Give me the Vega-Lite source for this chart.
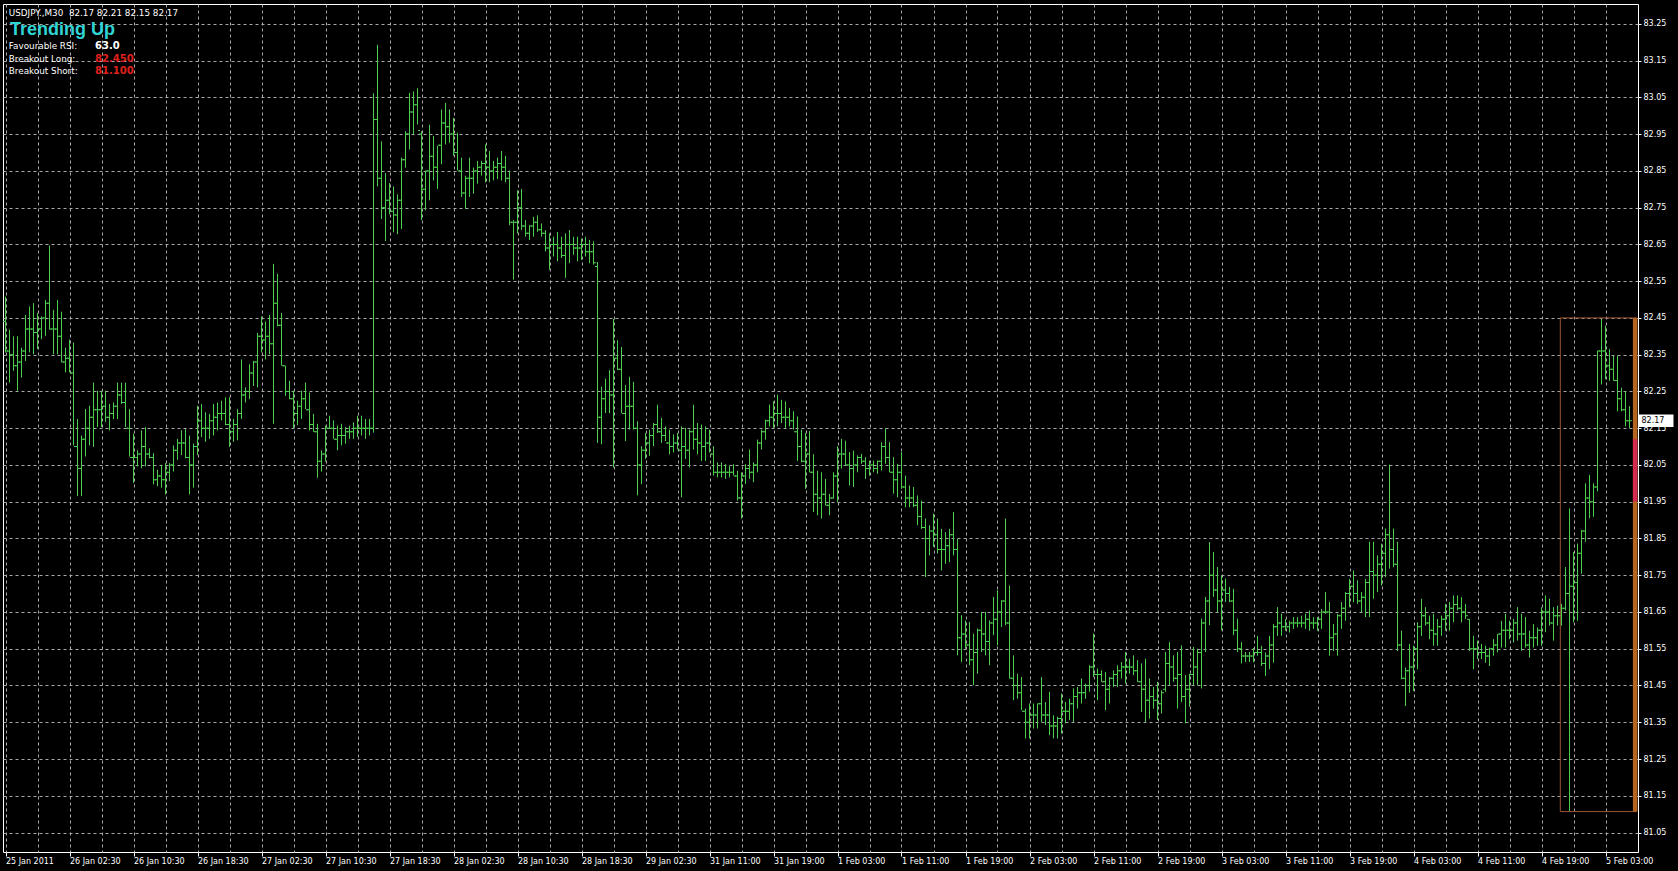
{
"$schema":"https://vega.github.io/schema/vega-lite/v6.json",
"width":1635,"height":848,
"autosize":{"type":"none"},
"padding":{"left":3,"top":4,"right":40,"bottom":19},
"background":"#000000",
"config":{"view":{"stroke":"#ffffff","strokeWidth":1},"text":{"font":"DejaVu Sans"},"axis":{"labelOverlap":false,"labelFlush":false}},
"data":{"values":[
{"i":0,"o":82.44,"h":82.508,"l":82.356,"c":82.36},
{"i":1,"o":82.36,"h":82.418,"l":82.274,"c":82.35},
{"i":2,"o":82.35,"h":82.400,"l":82.306,"c":82.32},
{"i":3,"o":82.32,"h":82.400,"l":82.252,"c":82.33},
{"i":4,"o":82.33,"h":82.369,"l":82.288,"c":82.36},
{"i":5,"o":82.36,"h":82.458,"l":82.333,"c":82.42},
{"i":6,"o":82.42,"h":82.481,"l":82.356,"c":82.42},
{"i":7,"o":82.42,"h":82.490,"l":82.351,"c":82.41},
{"i":8,"o":82.41,"h":82.463,"l":82.365,"c":82.42},
{"i":9,"o":82.42,"h":82.454,"l":82.392,"c":82.45},
{"i":10,"o":82.45,"h":82.499,"l":82.401,"c":82.49},
{"i":11,"o":82.49,"h":82.647,"l":82.418,"c":82.42},
{"i":12,"o":82.42,"h":82.472,"l":82.351,"c":82.42},
{"i":13,"o":82.42,"h":82.499,"l":82.351,"c":82.40},
{"i":14,"o":82.40,"h":82.467,"l":82.329,"c":82.33},
{"i":15,"o":82.33,"h":82.369,"l":82.302,"c":82.34},
{"i":16,"o":82.34,"h":82.391,"l":82.302,"c":82.30},
{"i":17,"o":82.30,"h":82.383,"l":82.103,"c":82.10},
{"i":18,"o":82.10,"h":82.175,"l":81.965,"c":82.04},
{"i":19,"o":82.04,"h":82.130,"l":81.965,"c":82.12},
{"i":20,"o":82.12,"h":82.202,"l":82.073,"c":82.15},
{"i":21,"o":82.15,"h":82.211,"l":82.103,"c":82.18},
{"i":22,"o":82.18,"h":82.274,"l":82.099,"c":82.20},
{"i":23,"o":82.20,"h":82.252,"l":82.153,"c":82.20},
{"i":24,"o":82.20,"h":82.252,"l":82.153,"c":82.21},
{"i":25,"o":82.21,"h":82.252,"l":82.167,"c":82.18},
{"i":26,"o":82.18,"h":82.216,"l":82.144,"c":82.19},
{"i":27,"o":82.19,"h":82.220,"l":82.175,"c":82.21},
{"i":28,"o":82.21,"h":82.274,"l":82.175,"c":82.24},
{"i":29,"o":82.24,"h":82.274,"l":82.216,"c":82.22},
{"i":30,"o":82.22,"h":82.274,"l":82.153,"c":82.15},
{"i":31,"o":82.15,"h":82.202,"l":82.073,"c":82.07},
{"i":32,"o":82.07,"h":82.135,"l":82.001,"c":82.07},
{"i":33,"o":82.07,"h":82.090,"l":82.046,"c":82.08},
{"i":34,"o":82.08,"h":82.144,"l":82.041,"c":82.10},
{"i":35,"o":82.10,"h":82.153,"l":82.046,"c":82.08},
{"i":36,"o":82.08,"h":82.095,"l":82.068,"c":82.07},
{"i":37,"o":82.07,"h":82.082,"l":81.997,"c":82.01},
{"i":38,"o":82.01,"h":82.037,"l":81.992,"c":82.02},
{"i":39,"o":82.02,"h":82.050,"l":81.988,"c":82.01},
{"i":40,"o":82.01,"h":82.055,"l":81.970,"c":82.03},
{"i":41,"o":82.03,"h":82.055,"l":82.006,"c":82.05},
{"i":42,"o":82.05,"h":82.103,"l":82.032,"c":82.09},
{"i":43,"o":82.09,"h":82.121,"l":82.064,"c":82.11},
{"i":44,"o":82.11,"h":82.144,"l":82.077,"c":82.11},
{"i":45,"o":82.11,"h":82.148,"l":82.068,"c":82.07},
{"i":46,"o":82.07,"h":82.130,"l":81.970,"c":82.05},
{"i":47,"o":82.05,"h":82.108,"l":81.988,"c":82.10},
{"i":48,"o":82.10,"h":82.211,"l":82.077,"c":82.17},
{"i":49,"o":82.17,"h":82.216,"l":82.126,"c":82.15},
{"i":50,"o":82.15,"h":82.193,"l":82.113,"c":82.15},
{"i":51,"o":82.15,"h":82.189,"l":82.121,"c":82.17},
{"i":52,"o":82.17,"h":82.216,"l":82.130,"c":82.18},
{"i":53,"o":82.18,"h":82.220,"l":82.144,"c":82.19},
{"i":54,"o":82.19,"h":82.225,"l":82.171,"c":82.19},
{"i":55,"o":82.19,"h":82.234,"l":82.158,"c":82.16},
{"i":56,"o":82.16,"h":82.234,"l":82.099,"c":82.14},
{"i":57,"o":82.14,"h":82.175,"l":82.113,"c":82.16},
{"i":58,"o":82.16,"h":82.202,"l":82.117,"c":82.19},
{"i":59,"o":82.19,"h":82.337,"l":82.175,"c":82.24},
{"i":60,"o":82.24,"h":82.261,"l":82.220,"c":82.25},
{"i":61,"o":82.25,"h":82.324,"l":82.229,"c":82.30},
{"i":62,"o":82.30,"h":82.333,"l":82.265,"c":82.33},
{"i":63,"o":82.33,"h":82.409,"l":82.261,"c":82.40},
{"i":64,"o":82.40,"h":82.454,"l":82.356,"c":82.39},
{"i":65,"o":82.39,"h":82.440,"l":82.337,"c":82.40},
{"i":66,"o":82.40,"h":82.458,"l":82.351,"c":82.38},
{"i":67,"o":82.38,"h":82.597,"l":82.162,"c":82.49},
{"i":68,"o":82.49,"h":82.570,"l":82.427,"c":82.43},
{"i":69,"o":82.43,"h":82.463,"l":82.320,"c":82.32},
{"i":70,"o":82.32,"h":82.320,"l":82.238,"c":82.25},
{"i":71,"o":82.25,"h":82.279,"l":82.229,"c":82.23},
{"i":72,"o":82.23,"h":82.252,"l":82.149,"c":82.19},
{"i":73,"o":82.19,"h":82.225,"l":82.158,"c":82.21},
{"i":74,"o":82.21,"h":82.252,"l":82.175,"c":82.23},
{"i":75,"o":82.23,"h":82.274,"l":82.202,"c":82.20},
{"i":76,"o":82.20,"h":82.247,"l":82.144,"c":82.16},
{"i":77,"o":82.16,"h":82.189,"l":82.140,"c":82.14},
{"i":78,"o":82.14,"h":82.162,"l":82.015,"c":82.06},
{"i":79,"o":82.06,"h":82.090,"l":82.032,"c":82.08},
{"i":80,"o":82.08,"h":82.157,"l":82.059,"c":82.15},
{"i":81,"o":82.15,"h":82.184,"l":82.149,"c":82.15},
{"i":82,"o":82.15,"h":82.171,"l":82.121,"c":82.12},
{"i":83,"o":82.12,"h":82.157,"l":82.090,"c":82.13},
{"i":84,"o":82.13,"h":82.162,"l":82.103,"c":82.13},
{"i":85,"o":82.13,"h":82.153,"l":82.108,"c":82.14},
{"i":86,"o":82.14,"h":82.157,"l":82.121,"c":82.14},
{"i":87,"o":82.14,"h":82.166,"l":82.121,"c":82.15},
{"i":88,"o":82.15,"h":82.184,"l":82.126,"c":82.15},
{"i":89,"o":82.15,"h":82.184,"l":82.130,"c":82.15},
{"i":90,"o":82.15,"h":82.175,"l":82.121,"c":82.15},
{"i":91,"o":82.15,"h":82.175,"l":82.130,"c":82.15},
{"i":92,"o":82.15,"h":83.061,"l":82.138,"c":82.99},
{"i":93,"o":82.99,"h":83.193,"l":82.808,"c":82.83},
{"i":94,"o":82.83,"h":82.930,"l":82.719,"c":82.75},
{"i":95,"o":82.75,"h":82.844,"l":82.659,"c":82.77},
{"i":96,"o":82.77,"h":82.817,"l":82.732,"c":82.74},
{"i":97,"o":82.74,"h":82.808,"l":82.683,"c":82.73},
{"i":98,"o":82.73,"h":82.786,"l":82.678,"c":82.77},
{"i":99,"o":82.77,"h":82.886,"l":82.692,"c":82.88},
{"i":100,"o":82.88,"h":82.958,"l":82.859,"c":82.95},
{"i":101,"o":82.95,"h":83.062,"l":82.908,"c":83.01},
{"i":102,"o":83.01,"h":83.066,"l":82.949,"c":83.03},
{"i":103,"o":83.03,"h":83.075,"l":82.976,"c":82.96},
{"i":104,"o":82.95,"h":82.958,"l":82.716,"c":82.80},
{"i":105,"o":82.80,"h":82.851,"l":82.743,"c":82.85},
{"i":106,"o":82.85,"h":82.976,"l":82.770,"c":82.89},
{"i":107,"o":82.89,"h":82.945,"l":82.824,"c":82.86},
{"i":108,"o":82.86,"h":82.918,"l":82.801,"c":82.92},
{"i":109,"o":82.92,"h":83.017,"l":82.868,"c":82.98},
{"i":110,"o":82.98,"h":83.035,"l":82.922,"c":82.97},
{"i":111,"o":82.97,"h":83.017,"l":82.927,"c":82.95},
{"i":112,"o":82.95,"h":82.994,"l":82.891,"c":82.90},
{"i":113,"o":82.90,"h":82.954,"l":82.851,"c":82.85},
{"i":114,"o":82.85,"h":82.886,"l":82.779,"c":82.79},
{"i":115,"o":82.79,"h":82.837,"l":82.747,"c":82.83},
{"i":116,"o":82.83,"h":82.886,"l":82.779,"c":82.83},
{"i":117,"o":82.83,"h":82.859,"l":82.788,"c":82.85},
{"i":118,"o":82.85,"h":82.877,"l":82.815,"c":82.86},
{"i":119,"o":82.86,"h":82.877,"l":82.837,"c":82.87},
{"i":120,"o":82.87,"h":82.922,"l":82.819,"c":82.86},
{"i":121,"o":82.86,"h":82.904,"l":82.819,"c":82.85},
{"i":122,"o":82.85,"h":82.877,"l":82.824,"c":82.86},
{"i":123,"o":82.86,"h":82.886,"l":82.828,"c":82.87},
{"i":124,"o":82.87,"h":82.904,"l":82.824,"c":82.86},
{"i":125,"o":82.86,"h":82.891,"l":82.819,"c":82.83},
{"i":126,"o":82.83,"h":82.851,"l":82.702,"c":82.71},
{"i":127,"o":82.71,"h":82.716,"l":82.554,"c":82.71},
{"i":128,"o":82.71,"h":82.797,"l":82.680,"c":82.75},
{"i":129,"o":82.75,"h":82.801,"l":82.689,"c":82.70},
{"i":130,"o":82.70,"h":82.716,"l":82.671,"c":82.68},
{"i":131,"o":82.68,"h":82.702,"l":82.662,"c":82.70},
{"i":132,"o":82.70,"h":82.725,"l":82.671,"c":82.71},
{"i":133,"o":82.71,"h":82.729,"l":82.684,"c":82.69},
{"i":134,"o":82.69,"h":82.707,"l":82.671,"c":82.68},
{"i":135,"o":82.68,"h":82.689,"l":82.631,"c":82.64},
{"i":136,"o":82.64,"h":82.680,"l":82.581,"c":82.65},
{"i":137,"o":82.65,"h":82.671,"l":82.617,"c":82.65},
{"i":138,"o":82.65,"h":82.684,"l":82.604,"c":82.64},
{"i":139,"o":82.64,"h":82.671,"l":82.613,"c":82.62},
{"i":140,"o":82.62,"h":82.680,"l":82.559,"c":82.65},
{"i":141,"o":82.65,"h":82.689,"l":82.599,"c":82.65},
{"i":142,"o":82.65,"h":82.671,"l":82.622,"c":82.64},
{"i":143,"o":82.64,"h":82.671,"l":82.604,"c":82.64},
{"i":144,"o":82.64,"h":82.666,"l":82.608,"c":82.65},
{"i":145,"o":82.65,"h":82.671,"l":82.617,"c":82.63},
{"i":146,"o":82.63,"h":82.662,"l":82.599,"c":82.63},
{"i":147,"o":82.63,"h":82.658,"l":82.595,"c":82.60},
{"i":148,"o":82.59,"h":82.602,"l":82.110,"c":82.18},
{"i":149,"o":82.18,"h":82.263,"l":82.106,"c":82.23},
{"i":150,"o":82.23,"h":82.285,"l":82.191,"c":82.25},
{"i":151,"o":82.25,"h":82.308,"l":82.191,"c":82.24},
{"i":152,"o":82.24,"h":82.447,"l":82.043,"c":82.34},
{"i":153,"o":82.34,"h":82.389,"l":82.308,"c":82.31},
{"i":154,"o":82.31,"h":82.371,"l":82.191,"c":82.19},
{"i":155,"o":82.19,"h":82.267,"l":82.115,"c":82.21},
{"i":156,"o":82.21,"h":82.290,"l":82.146,"c":82.21},
{"i":157,"o":82.21,"h":82.276,"l":82.146,"c":82.15},
{"i":158,"o":82.15,"h":82.169,"l":81.967,"c":82.05},
{"i":159,"o":82.05,"h":82.101,"l":81.998,"c":82.09},
{"i":160,"o":82.09,"h":82.137,"l":82.066,"c":82.11},
{"i":161,"o":82.11,"h":82.146,"l":82.075,"c":82.13},
{"i":162,"o":82.13,"h":82.164,"l":82.101,"c":82.16},
{"i":163,"o":82.16,"h":82.214,"l":82.137,"c":82.14},
{"i":164,"o":82.14,"h":82.178,"l":82.110,"c":82.13},
{"i":165,"o":82.13,"h":82.155,"l":82.115,"c":82.11},
{"i":166,"o":82.11,"h":82.146,"l":82.079,"c":82.10},
{"i":167,"o":82.10,"h":82.133,"l":82.084,"c":82.11},
{"i":168,"o":82.11,"h":82.137,"l":82.092,"c":82.09},
{"i":169,"o":82.09,"h":82.155,"l":81.962,"c":82.10},
{"i":170,"o":82.10,"h":82.151,"l":82.066,"c":82.09},
{"i":171,"o":82.09,"h":82.146,"l":82.043,"c":82.14},
{"i":172,"o":82.14,"h":82.214,"l":82.092,"c":82.12},
{"i":173,"o":82.12,"h":82.164,"l":82.079,"c":82.11},
{"i":174,"o":82.11,"h":82.160,"l":82.061,"c":82.10},
{"i":175,"o":82.10,"h":82.155,"l":82.061,"c":82.11},
{"i":176,"o":82.11,"h":82.146,"l":82.084,"c":82.08},
{"i":177,"o":82.08,"h":82.101,"l":82.021,"c":82.03},
{"i":178,"o":82.03,"h":82.057,"l":82.016,"c":82.03},
{"i":179,"o":82.03,"h":82.057,"l":82.016,"c":82.03},
{"i":180,"o":82.03,"h":82.052,"l":82.012,"c":82.03},
{"i":181,"o":82.03,"h":82.048,"l":82.016,"c":82.03},
{"i":182,"o":82.03,"h":82.052,"l":82.021,"c":82.02},
{"i":183,"o":82.02,"h":82.034,"l":81.953,"c":81.96},
{"i":184,"o":81.96,"h":82.030,"l":81.904,"c":82.02},
{"i":185,"o":82.02,"h":82.052,"l":81.998,"c":82.04},
{"i":186,"o":82.04,"h":82.092,"l":82.012,"c":82.03},
{"i":187,"o":82.03,"h":82.057,"l":82.003,"c":82.05},
{"i":188,"o":82.05,"h":82.119,"l":82.030,"c":82.11},
{"i":189,"o":82.11,"h":82.146,"l":82.092,"c":82.14},
{"i":190,"o":82.14,"h":82.173,"l":82.119,"c":82.17},
{"i":191,"o":82.17,"h":82.214,"l":82.155,"c":82.18},
{"i":192,"o":82.18,"h":82.223,"l":82.151,"c":82.19},
{"i":193,"o":82.19,"h":82.241,"l":82.155,"c":82.19},
{"i":194,"o":82.19,"h":82.227,"l":82.164,"c":82.18},
{"i":195,"o":82.18,"h":82.223,"l":82.151,"c":82.18},
{"i":196,"o":82.18,"h":82.205,"l":82.155,"c":82.17},
{"i":197,"o":82.17,"h":82.196,"l":82.146,"c":82.14},
{"i":198,"o":82.14,"h":82.182,"l":82.061,"c":82.10},
{"i":199,"o":82.10,"h":82.146,"l":82.057,"c":82.06},
{"i":200,"o":82.06,"h":82.137,"l":81.985,"c":82.08},
{"i":201,"o":82.08,"h":82.142,"l":82.030,"c":82.03},
{"i":202,"o":82.03,"h":82.079,"l":81.922,"c":81.97},
{"i":203,"o":81.97,"h":82.034,"l":81.913,"c":81.96},
{"i":204,"o":81.96,"h":82.030,"l":81.904,"c":81.97},
{"i":205,"o":81.97,"h":82.012,"l":81.940,"c":81.94},
{"i":206,"o":81.94,"h":81.971,"l":81.913,"c":81.96},
{"i":207,"o":81.96,"h":82.030,"l":81.958,"c":82.02},
{"i":208,"o":82.02,"h":82.101,"l":81.949,"c":82.08},
{"i":209,"o":82.08,"h":82.121,"l":82.040,"c":82.08},
{"i":210,"o":82.08,"h":82.116,"l":82.049,"c":82.05},
{"i":211,"o":82.05,"h":82.085,"l":81.994,"c":82.04},
{"i":212,"o":82.04,"h":82.089,"l":81.990,"c":82.05},
{"i":213,"o":82.05,"h":82.076,"l":82.030,"c":82.07},
{"i":214,"o":82.07,"h":82.080,"l":82.053,"c":82.06},
{"i":215,"o":82.06,"h":82.071,"l":82.012,"c":82.04},
{"i":216,"o":82.04,"h":82.062,"l":82.021,"c":82.05},
{"i":217,"o":82.05,"h":82.062,"l":82.030,"c":82.04},
{"i":218,"o":82.04,"h":82.062,"l":82.026,"c":82.06},
{"i":219,"o":82.06,"h":82.112,"l":82.035,"c":82.10},
{"i":220,"o":82.10,"h":82.150,"l":82.053,"c":82.07},
{"i":221,"o":82.07,"h":82.112,"l":82.030,"c":82.03},
{"i":222,"o":82.03,"h":82.071,"l":81.972,"c":82.01},
{"i":223,"o":82.01,"h":82.053,"l":81.962,"c":82.03},
{"i":224,"o":82.03,"h":82.085,"l":81.985,"c":81.99},
{"i":225,"o":81.99,"h":82.021,"l":81.935,"c":81.96},
{"i":226,"o":81.96,"h":81.994,"l":81.935,"c":81.96},
{"i":227,"o":81.96,"h":81.990,"l":81.935,"c":81.94},
{"i":228,"o":81.94,"h":81.967,"l":81.886,"c":81.91},
{"i":229,"o":81.91,"h":81.953,"l":81.876,"c":81.88},
{"i":230,"o":81.88,"h":81.904,"l":81.745,"c":81.85},
{"i":231,"o":81.85,"h":81.886,"l":81.804,"c":81.87},
{"i":232,"o":81.87,"h":81.917,"l":81.827,"c":81.86},
{"i":233,"o":81.86,"h":81.904,"l":81.809,"c":81.82},
{"i":234,"o":81.82,"h":81.876,"l":81.763,"c":81.82},
{"i":235,"o":81.82,"h":81.867,"l":81.781,"c":81.83},
{"i":236,"o":81.83,"h":81.876,"l":81.786,"c":81.86},
{"i":237,"o":81.86,"h":81.922,"l":81.804,"c":81.82},
{"i":238,"o":81.82,"h":81.849,"l":81.532,"c":81.58},
{"i":239,"o":81.58,"h":81.641,"l":81.514,"c":81.59},
{"i":240,"o":81.59,"h":81.627,"l":81.550,"c":81.56},
{"i":241,"o":81.56,"h":81.623,"l":81.505,"c":81.52},
{"i":242,"o":81.52,"h":81.591,"l":81.451,"c":81.54},
{"i":243,"o":81.54,"h":81.605,"l":81.482,"c":81.60},
{"i":244,"o":81.60,"h":81.650,"l":81.541,"c":81.59},
{"i":245,"o":81.59,"h":81.650,"l":81.532,"c":81.57},
{"i":246,"o":81.57,"h":81.627,"l":81.505,"c":81.62},
{"i":247,"o":81.62,"h":81.691,"l":81.587,"c":81.63},
{"i":248,"o":81.63,"h":81.709,"l":81.559,"c":81.65},
{"i":249,"o":81.65,"h":81.682,"l":81.609,"c":81.68},
{"i":250,"o":81.68,"h":81.904,"l":81.614,"c":81.62},
{"i":251,"o":81.62,"h":81.722,"l":81.469,"c":81.47},
{"i":252,"o":81.47,"h":81.532,"l":81.410,"c":81.45},
{"i":253,"o":81.45,"h":81.482,"l":81.414,"c":81.43},
{"i":254,"o":81.43,"h":81.473,"l":81.383,"c":81.38},
{"i":255,"o":81.38,"h":81.387,"l":81.306,"c":81.35},
{"i":256,"o":81.35,"h":81.401,"l":81.306,"c":81.37},
{"i":257,"o":81.37,"h":81.401,"l":81.333,"c":81.37},
{"i":258,"o":81.37,"h":81.401,"l":81.333,"c":81.40},
{"i":259,"o":81.40,"h":81.473,"l":81.351,"c":81.37},
{"i":260,"o":81.37,"h":81.405,"l":81.342,"c":81.37},
{"i":261,"o":81.37,"h":81.433,"l":81.315,"c":81.34},
{"i":262,"o":81.34,"h":81.369,"l":81.306,"c":81.34},
{"i":263,"o":81.34,"h":81.365,"l":81.306,"c":81.36},
{"i":264,"o":81.36,"h":81.428,"l":81.319,"c":81.38},
{"i":265,"o":81.38,"h":81.405,"l":81.347,"c":81.38},
{"i":266,"o":81.38,"h":81.414,"l":81.356,"c":81.40},
{"i":267,"o":81.40,"h":81.442,"l":81.351,"c":81.42},
{"i":268,"o":81.42,"h":81.446,"l":81.387,"c":81.43},
{"i":269,"o":81.43,"h":81.469,"l":81.401,"c":81.43},
{"i":270,"o":81.43,"h":81.455,"l":81.414,"c":81.45},
{"i":271,"o":81.45,"h":81.505,"l":81.433,"c":81.50},
{"i":272,"o":81.50,"h":81.591,"l":81.473,"c":81.48},
{"i":273,"o":81.48,"h":81.496,"l":81.410,"c":81.48},
{"i":274,"o":81.48,"h":81.491,"l":81.460,"c":81.46},
{"i":275,"o":81.46,"h":81.487,"l":81.383,"c":81.44},
{"i":276,"o":81.44,"h":81.473,"l":81.401,"c":81.47},
{"i":277,"o":81.47,"h":81.491,"l":81.446,"c":81.48},
{"i":278,"o":81.48,"h":81.505,"l":81.446,"c":81.49},
{"i":279,"o":81.49,"h":81.514,"l":81.469,"c":81.50},
{"i":280,"o":81.50,"h":81.541,"l":81.455,"c":81.50},
{"i":281,"o":81.50,"h":81.523,"l":81.482,"c":81.50},
{"i":282,"o":81.50,"h":81.532,"l":81.478,"c":81.49},
{"i":283,"o":81.49,"h":81.519,"l":81.460,"c":81.46},
{"i":284,"o":81.46,"h":81.510,"l":81.378,"c":81.44},
{"i":285,"o":81.44,"h":81.523,"l":81.351,"c":81.41},
{"i":286,"o":81.41,"h":81.469,"l":81.360,"c":81.42},
{"i":287,"o":81.42,"h":81.446,"l":81.387,"c":81.41},
{"i":288,"o":81.41,"h":81.460,"l":81.356,"c":81.40},
{"i":289,"o":81.40,"h":81.437,"l":81.374,"c":81.43},
{"i":290,"o":81.44,"h":81.541,"l":81.433,"c":81.51},
{"i":291,"o":81.51,"h":81.568,"l":81.451,"c":81.50},
{"i":292,"o":81.50,"h":81.532,"l":81.460,"c":81.47},
{"i":293,"o":81.47,"h":81.541,"l":81.387,"c":81.48},
{"i":294,"o":81.48,"h":81.559,"l":81.405,"c":81.42},
{"i":295,"o":81.42,"h":81.478,"l":81.347,"c":81.44},
{"i":296,"o":81.44,"h":81.482,"l":81.392,"c":81.48},
{"i":297,"o":81.48,"h":81.555,"l":81.451,"c":81.50},
{"i":298,"o":81.50,"h":81.550,"l":81.451,"c":81.54},
{"i":299,"o":81.54,"h":81.632,"l":81.442,"c":81.62},
{"i":300,"o":81.62,"h":81.691,"l":81.541,"c":81.68},
{"i":301,"o":81.68,"h":81.840,"l":81.614,"c":81.75},
{"i":302,"o":81.75,"h":81.813,"l":81.691,"c":81.71},
{"i":303,"o":81.71,"h":81.772,"l":81.650,"c":81.68},
{"i":304,"o":81.68,"h":81.750,"l":81.600,"c":81.71},
{"i":305,"o":81.71,"h":81.741,"l":81.677,"c":81.70},
{"i":306,"o":81.70,"h":81.718,"l":81.677,"c":81.68},
{"i":307,"o":81.68,"h":81.713,"l":81.587,"c":81.60},
{"i":308,"o":81.60,"h":81.632,"l":81.541,"c":81.55},
{"i":309,"o":81.55,"h":81.568,"l":81.510,"c":81.53},
{"i":310,"o":81.53,"h":81.541,"l":81.514,"c":81.53},
{"i":311,"o":81.53,"h":81.541,"l":81.514,"c":81.53},
{"i":312,"o":81.53,"h":81.552,"l":81.513,"c":81.54},
{"i":313,"o":81.54,"h":81.585,"l":81.531,"c":81.54},
{"i":314,"o":81.54,"h":81.558,"l":81.503,"c":81.51},
{"i":315,"o":81.51,"h":81.540,"l":81.476,"c":81.53},
{"i":316,"o":81.53,"h":81.585,"l":81.494,"c":81.56},
{"i":317,"o":81.56,"h":81.617,"l":81.512,"c":81.61},
{"i":318,"o":81.61,"h":81.663,"l":81.585,"c":81.62},
{"i":319,"o":81.62,"h":81.645,"l":81.585,"c":81.61},
{"i":320,"o":81.61,"h":81.631,"l":81.599,"c":81.61},
{"i":321,"o":81.61,"h":81.626,"l":81.594,"c":81.62},
{"i":322,"o":81.62,"h":81.636,"l":81.604,"c":81.62},
{"i":323,"o":81.62,"h":81.636,"l":81.608,"c":81.62},
{"i":324,"o":81.62,"h":81.640,"l":81.608,"c":81.62},
{"i":325,"o":81.62,"h":81.645,"l":81.604,"c":81.63},
{"i":326,"o":81.63,"h":81.654,"l":81.599,"c":81.62},
{"i":327,"o":81.62,"h":81.636,"l":81.604,"c":81.62},
{"i":328,"o":81.62,"h":81.636,"l":81.599,"c":81.63},
{"i":329,"o":81.63,"h":81.658,"l":81.604,"c":81.65},
{"i":330,"o":81.65,"h":81.704,"l":81.645,"c":81.65},
{"i":331,"o":81.65,"h":81.677,"l":81.531,"c":81.58},
{"i":332,"o":81.58,"h":81.617,"l":81.544,"c":81.59},
{"i":333,"o":81.59,"h":81.645,"l":81.531,"c":81.64},
{"i":334,"o":81.64,"h":81.677,"l":81.604,"c":81.66},
{"i":335,"o":81.66,"h":81.704,"l":81.626,"c":81.70},
{"i":336,"o":81.70,"h":81.740,"l":81.663,"c":81.72},
{"i":337,"o":81.72,"h":81.763,"l":81.677,"c":81.70},
{"i":338,"o":81.70,"h":81.736,"l":81.672,"c":81.68},
{"i":339,"o":81.68,"h":81.704,"l":81.649,"c":81.69},
{"i":340,"o":81.69,"h":81.740,"l":81.636,"c":81.73},
{"i":341,"o":81.73,"h":81.841,"l":81.636,"c":81.76},
{"i":342,"o":81.76,"h":81.841,"l":81.686,"c":81.75},
{"i":343,"o":81.75,"h":81.804,"l":81.704,"c":81.78},
{"i":344,"o":81.78,"h":81.836,"l":81.722,"c":81.81},
{"i":345,"o":81.81,"h":81.877,"l":81.745,"c":81.86},
{"i":346,"o":81.86,"h":82.051,"l":81.768,"c":81.82},
{"i":347,"o":81.82,"h":81.877,"l":81.772,"c":81.78},
{"i":348,"o":81.78,"h":81.841,"l":81.544,"c":81.56},
{"i":349,"o":81.56,"h":81.599,"l":81.467,"c":81.47},
{"i":350,"o":81.47,"h":81.499,"l":81.394,"c":81.49},
{"i":351,"o":81.49,"h":81.563,"l":81.430,"c":81.50},
{"i":352,"o":81.50,"h":81.558,"l":81.435,"c":81.55},
{"i":353,"o":81.55,"h":81.622,"l":81.494,"c":81.61},
{"i":354,"o":81.61,"h":81.686,"l":81.585,"c":81.64},
{"i":355,"o":81.64,"h":81.663,"l":81.613,"c":81.62},
{"i":356,"o":81.62,"h":81.640,"l":81.576,"c":81.60},
{"i":357,"o":81.60,"h":81.645,"l":81.558,"c":81.59},
{"i":358,"o":81.59,"h":81.631,"l":81.558,"c":81.61},
{"i":359,"o":81.61,"h":81.640,"l":81.585,"c":81.63},
{"i":360,"o":81.63,"h":81.672,"l":81.599,"c":81.64},
{"i":361,"o":81.64,"h":81.677,"l":81.599,"c":81.66},
{"i":362,"o":81.66,"h":81.695,"l":81.622,"c":81.67},
{"i":363,"o":81.67,"h":81.695,"l":81.654,"c":81.66},
{"i":364,"o":81.66,"h":81.690,"l":81.622,"c":81.65},
{"i":365,"o":81.65,"h":81.672,"l":81.631,"c":81.64},
{"i":366,"o":81.63,"h":81.631,"l":81.544,"c":81.55},
{"i":367,"o":81.55,"h":81.585,"l":81.494,"c":81.55},
{"i":368,"o":81.55,"h":81.572,"l":81.522,"c":81.54},
{"i":369,"o":81.54,"h":81.563,"l":81.522,"c":81.54},
{"i":370,"o":81.54,"h":81.558,"l":81.512,"c":81.53},
{"i":371,"o":81.53,"h":81.553,"l":81.503,"c":81.55},
{"i":372,"o":81.55,"h":81.576,"l":81.531,"c":81.56},
{"i":373,"o":81.56,"h":81.590,"l":81.540,"c":81.59},
{"i":374,"o":81.59,"h":81.626,"l":81.553,"c":81.60},
{"i":375,"o":81.60,"h":81.645,"l":81.553,"c":81.60},
{"i":376,"o":81.60,"h":81.626,"l":81.576,"c":81.60},
{"i":377,"o":81.60,"h":81.631,"l":81.567,"c":81.62},
{"i":378,"o":81.62,"h":81.663,"l":81.572,"c":81.59},
{"i":379,"o":81.59,"h":81.645,"l":81.544,"c":81.59},
{"i":380,"o":81.59,"h":81.636,"l":81.553,"c":81.56},
{"i":381,"o":81.56,"h":81.599,"l":81.526,"c":81.58},
{"i":382,"o":81.58,"h":81.617,"l":81.553,"c":81.58},
{"i":383,"o":81.58,"h":81.608,"l":81.558,"c":81.60},
{"i":384,"o":81.60,"h":81.663,"l":81.558,"c":81.65},
{"i":385,"o":81.65,"h":81.695,"l":81.595,"c":81.65},
{"i":386,"o":81.65,"h":81.686,"l":81.613,"c":81.62},
{"i":387,"o":81.62,"h":81.663,"l":81.572,"c":81.64},
{"i":388,"o":81.64,"h":81.667,"l":81.613,"c":81.64},
{"i":389,"o":81.64,"h":81.672,"l":81.613,"c":81.66},
{"i":390,"o":81.66,"h":81.772,"l":81.654,"c":81.70},
{"i":391,"o":81.70,"h":81.932,"l":81.107,"c":81.72},
{"i":392,"o":81.72,"h":81.813,"l":81.622,"c":81.73},
{"i":393,"o":81.73,"h":81.836,"l":81.626,"c":81.81},
{"i":394,"o":81.81,"h":81.873,"l":81.754,"c":81.87},
{"i":395,"o":81.87,"h":82.000,"l":81.841,"c":81.96},
{"i":396,"o":81.96,"h":82.023,"l":81.905,"c":81.95},
{"i":397,"o":81.95,"h":82.000,"l":81.909,"c":81.99},
{"i":398,"o":81.99,"h":82.361,"l":81.978,"c":82.36},
{"i":399,"o":82.36,"h":82.447,"l":82.269,"c":82.36},
{"i":400,"o":82.36,"h":82.429,"l":82.283,"c":82.32},
{"i":401,"o":82.32,"h":82.365,"l":82.279,"c":82.31},
{"i":402,"o":82.31,"h":82.347,"l":82.279,"c":82.28},
{"i":403,"o":82.28,"h":82.347,"l":82.196,"c":82.23},
{"i":404,"o":82.23,"h":82.260,"l":82.196,"c":82.20},
{"i":405,"o":82.20,"h":82.251,"l":82.155,"c":82.17},
{"i":406,"o":82.17,"h":82.21,"l":82.15,"c":82.17}
]},
"layer":[
{"data":{"values":[{}]},"mark":{"type":"rule","color":"#a8a8a8","strokeWidth":1},
 "encoding":{
  "x":{"field":"i","type":"quantitative","scale":{"domain":[-0.625,408.125],"nice":false,"zero":false},
   "axis":{"title":null,"orient":"bottom","tickCount":200,"values":[0,8,16,24,32,40,48,56,64,72,80,88,96,104,112,120,128,136,144,152,160,168,176,184,192,200,208,216,224,232,240,248,256,264,272,280,288,296,304,312,320,328,336,344,352,360,368,376,384,392,400],
    "grid":true,"gridColor":"#a8a8a8","gridDash":[3,3],"gridWidth":1,"gridOpacity":1,
    "domain":false,"ticks":true,"tickSize":4,"tickColor":"#ffffff","tickWidth":1,
    "tickOpacity":{"condition":{"test":"datum.value % 16 === 0","value":1},"value":0},
    "labelExpr":"datum.value % 16 === 0 ? ['25 Jan 2011','26 Jan 02:30','26 Jan 10:30','26 Jan 18:30','27 Jan 02:30','27 Jan 10:30','27 Jan 18:30','28 Jan 02:30','28 Jan 10:30','28 Jan 18:30','29 Jan 02:30','31 Jan 11:00','31 Jan 19:00','1 Feb 03:00','1 Feb 11:00','1 Feb 19:00','2 Feb 03:00','2 Feb 11:00','2 Feb 19:00','3 Feb 03:00','3 Feb 11:00','3 Feb 19:00','4 Feb 03:00','4 Feb 11:00','4 Feb 19:00','5 Feb 03:00'][datum.value / 16] : ''",
    "labelAlign":"left","labelBaseline":"top","labelPadding":1,"labelColor":"#ffffff","labelFont":"DejaVu Sans","labelFontSize":8,"labelOverlap":false,"labelFlush":false,"labelBound":false}},
  "y":{"datum":82.17,"type":"quantitative","scale":{"domain":[80.997,83.304],"nice":false,"zero":false},
   "axis":{"title":null,"orient":"right","tickCount":200,"values":[81.05,81.15,81.25,81.35,81.45,81.55,81.65,81.75,81.85,81.95,82.05,82.15,82.25,82.35,82.45,82.55,82.65,82.75,82.85,82.95,83.05,83.15,83.25],
    "format":".2f","grid":true,"gridColor":"#a8a8a8","gridDash":[3,3],"gridWidth":1,"gridOpacity":1,
    "domain":false,"tickSize":3,"tickColor":"#ffffff","labelColor":"#ffffff","labelFont":"DejaVu Sans","labelFontSize":8,"labelPadding":2,"labelOverlap":false,"labelFlush":false,"labelBound":false,"labelBaseline":"middle"}}}},
{"mark":{"type":"rule","color":"#4ccf4c","strokeWidth":1},
 "encoding":{"x":{"field":"i","type":"quantitative"},"y":{"field":"l","type":"quantitative"},"y2":{"field":"h"}}},
{"mark":{"type":"tick","orient":"horizontal","size":2,"thickness":1,"xOffset":-1.5,"color":"#4ccf4c","opacity":1},
 "encoding":{"x":{"field":"i","type":"quantitative"},"y":{"field":"o","type":"quantitative"}}},
{"mark":{"type":"tick","orient":"horizontal","size":2,"thickness":1,"xOffset":1.5,"color":"#4ccf4c","opacity":1},
 "encoding":{"x":{"field":"i","type":"quantitative"},"y":{"field":"c","type":"quantitative"}}},
{"data":{"values":[{}]},"mark":{"type":"rect","fillOpacity":0,"stroke":"#9c5434","strokeWidth":1},
 "encoding":{"x":{"datum":388.7},"x2":{"datum":407.8},"y":{"datum":82.45},"y2":{"datum":81.107}}},
{"data":{"values":[{}]},"mark":{"type":"rect","color":"#b4641e","opacity":1},
 "encoding":{"x":{"datum":406.85},"x2":{"datum":407.95},"y":{"datum":82.45},"y2":{"datum":81.107}}},
{"data":{"values":[{}]},"mark":{"type":"rect","color":"#d42a4e","opacity":1},
 "encoding":{"x":{"datum":406.85},"x2":{"datum":407.95},"y":{"datum":82.12},"y2":{"datum":81.95}}},
{"data":{"values":[{}]},"mark":{"type":"rect","color":"#ffffff","opacity":1},
 "encoding":{"x":{"datum":408.3},"x2":{"datum":417.0},"y":{"datum":82.187},"y2":{"datum":82.153}}},
{"data":{"values":[{}]},"mark":{"type":"text","text":"82.17","color":"#000000","font":"DejaVu Sans","fontSize":8,"align":"left","baseline":"middle"},
 "encoding":{"x":{"datum":409.0},"y":{"datum":82.17}}},
{"data":{"values":[{}]},"mark":{"type":"text","text":"USDJPY.,M30 \u00a082.17 82.21 82.15 82.17","color":"#ffffff","font":"DejaVu Sans","fontSize":8.8,"align":"left","baseline":"middle"},
 "encoding":{"x":{"datum":0.83},"y":{"datum":83.279}}},
{"data":{"values":[{}]},"mark":{"type":"text","text":"Trending Up","color":"#30d4d4","font":"Liberation Sans","fontSize":18,"fontWeight":"bold","align":"left","baseline":"middle"},
 "encoding":{"x":{"datum":1.15},"y":{"datum":83.232}}},
{"data":{"values":[{}]},"mark":{"type":"text","text":"Favourable RSI:","color":"#ffffff","font":"DejaVu Sans","fontSize":8.8,"align":"left","baseline":"middle"},
 "encoding":{"x":{"datum":0.83},"y":{"datum":83.190}}},
{"data":{"values":[{}]},"mark":{"type":"text","text":"63.0","color":"#ffffff","font":"DejaVu Sans","fontSize":10,"fontWeight":"bold","align":"left","baseline":"middle"},
 "encoding":{"x":{"datum":22.4},"y":{"datum":83.190}}},
{"data":{"values":[{}]},"mark":{"type":"text","text":"Breakout Long:","color":"#ffffff","font":"DejaVu Sans","fontSize":8.8,"align":"left","baseline":"middle"},
 "encoding":{"x":{"datum":0.83},"y":{"datum":83.155}}},
{"data":{"values":[{}]},"mark":{"type":"text","text":"82.450","color":"#e0201c","font":"DejaVu Sans","fontSize":10,"fontWeight":"bold","align":"left","baseline":"middle"},
 "encoding":{"x":{"datum":22.4},"y":{"datum":83.155}}},
{"data":{"values":[{}]},"mark":{"type":"text","text":"Breakout Short:","color":"#ffffff","font":"DejaVu Sans","fontSize":8.8,"align":"left","baseline":"middle"},
 "encoding":{"x":{"datum":0.83},"y":{"datum":83.122}}},
{"data":{"values":[{}]},"mark":{"type":"text","text":"81.100","color":"#e0201c","font":"DejaVu Sans","fontSize":10,"fontWeight":"bold","align":"left","baseline":"middle"},
 "encoding":{"x":{"datum":22.4},"y":{"datum":83.122}}}
]
}
